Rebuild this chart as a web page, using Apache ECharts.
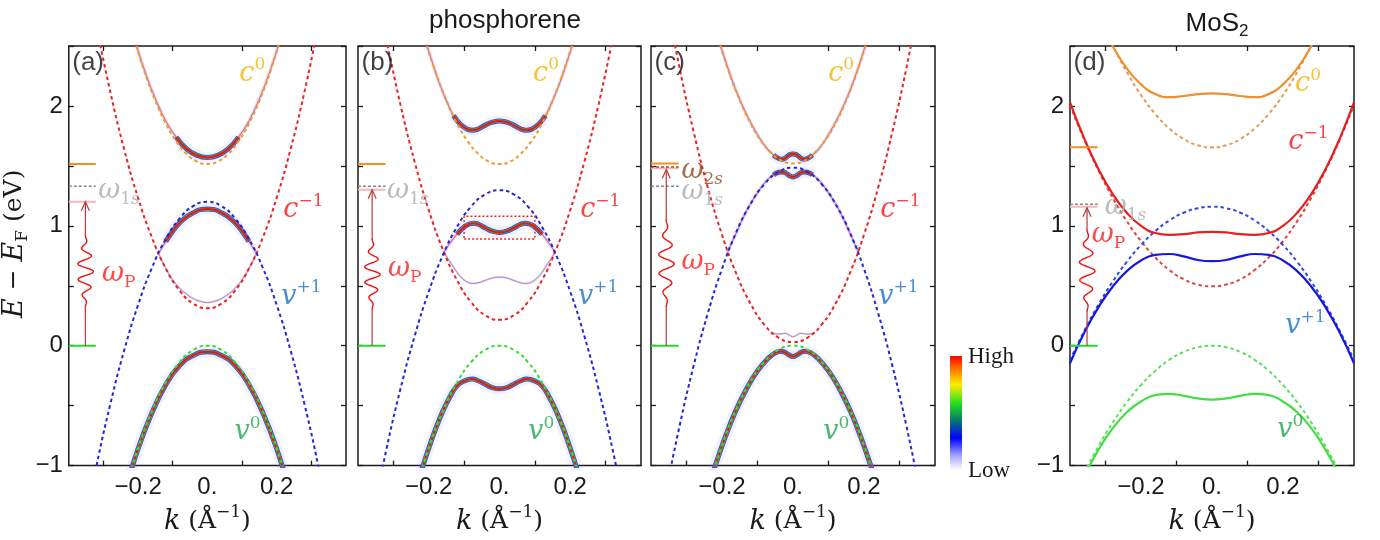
<!DOCTYPE html>
<html><head><meta charset="utf-8">
<script src="https://cdn.jsdelivr.net/npm/echarts@6/dist/echarts.min.js"></script>
<style>html,body{margin:0;padding:0;background:#fff}#c{width:1380px;height:540px}</style>
</head><body><div id="c"></div>
<script>
// ---------------- data (k in 1/Å, E in eV) ----------------
const xLabelTicks = [-0.2, 0, 0.2];
const xTickMarks = [-0.3, -0.1, 0.1, 0.3];
const yLabelTicks = [-1, 0, 1, 2];

// panel (a)
const A_c0  = [[-0.21,2.551],[-0.18,2.276],[-0.15,2.044],[-0.12,1.853],[-0.09,1.705],[-0.06,1.600],[-0.03,1.536],[0,1.515],[0.03,1.536],[0.06,1.600],[0.09,1.705],[0.12,1.853],[0.15,2.044],[0.18,2.276],[0.21,2.551]];
const A_cm1 = [[-0.32,2.668],[-0.28,2.116],[-0.24,1.638],[-0.2,1.233],[-0.16,0.902],[-0.12,0.644],[-0.08,0.460],[-0.04,0.350],[0,0.313],[0.04,0.350],[0.08,0.460],[0.12,0.644],[0.16,0.902],[0.2,1.233],[0.24,1.638],[0.28,2.116],[0.32,2.668]];
const A_vp1 = [[-0.36,-1.586],[-0.32,-1.002],[-0.28,-0.486],[-0.24,-0.038],[-0.2,0.340],[-0.16,0.650],[-0.12,0.890],[-0.08,1.062],[-0.04,1.166],[0,1.200],[0.04,1.166],[0.08,1.062],[0.12,0.890],[0.16,0.650],[0.2,0.340],[0.24,-0.038],[0.28,-0.486],[0.32,-1.002],[0.36,-1.586]];
const A_v0  = [[-0.24,-1.233],[-0.2,-0.856],[-0.16,-0.548],[-0.12,-0.308],[-0.08,-0.137],[-0.04,-0.034],[0,0],[0.04,-0.034],[0.08,-0.137],[0.12,-0.308],[0.16,-0.548],[0.2,-0.856],[0.24,-1.233]];
const A_sc0 = [[-0.21,2.555],[-0.18,2.285],[-0.15,2.06],[-0.12,1.875],[-0.09,1.74],[-0.06,1.642],[-0.03,1.588],[0,1.57],[0.03,1.588],[0.06,1.642],[0.09,1.74],[0.12,1.875],[0.15,2.06],[0.18,2.285],[0.21,2.555]];
const A_sup = [[-0.14,0.775],[-0.12,0.87],[-0.1,0.955],[-0.08,1.025],[-0.06,1.075],[-0.04,1.11],[-0.02,1.135],[0,1.14],[0.02,1.135],[0.04,1.11],[0.06,1.075],[0.08,1.025],[0.1,0.955],[0.12,0.87],[0.14,0.775]];
const A_slo = [[-0.14,0.765],[-0.12,0.645],[-0.1,0.55],[-0.08,0.48],[-0.06,0.43],[-0.04,0.392],[-0.02,0.37],[0,0.36],[0.02,0.37],[0.04,0.392],[0.06,0.43],[0.08,0.48],[0.1,0.55],[0.12,0.645],[0.14,0.765]];
const A_sv0 = [[-0.24,-1.24],[-0.2,-0.86],[-0.16,-0.56],[-0.12,-0.325],[-0.08,-0.165],[-0.04,-0.08],[0,-0.05],[0.04,-0.08],[0.08,-0.165],[0.12,-0.325],[0.16,-0.56],[0.2,-0.86],[0.24,-1.24]];

// panel (b)
const B_c0  = [[-0.21,2.551],[-0.18,2.276],[-0.15,2.044],[-0.12,1.853],[-0.09,1.705],[-0.06,1.600],[-0.03,1.536],[0,1.515],[0.03,1.536],[0.06,1.600],[0.09,1.705],[0.12,1.853],[0.15,2.044],[0.18,2.276],[0.21,2.551]];
const B_cm1 = [[-0.32,2.561],[-0.28,2.011],[-0.24,1.535],[-0.2,1.132],[-0.16,0.802],[-0.12,0.546],[-0.08,0.363],[-0.04,0.253],[0,0.216],[0.04,0.253],[0.08,0.363],[0.12,0.546],[0.16,0.802],[0.2,1.132],[0.24,1.535],[0.28,2.011],[0.32,2.561]];
const B_vp1 = [[-0.36,-1.444],[-0.32,-0.869],[-0.28,-0.361],[-0.24,0.079],[-0.2,0.451],[-0.16,0.756],[-0.12,0.992],[-0.08,1.162],[-0.04,1.263],[0,1.297],[0.04,1.263],[0.08,1.162],[0.12,0.992],[0.16,0.756],[0.2,0.451],[0.24,0.079],[0.28,-0.361],[0.32,-0.869],[0.36,-1.444]];
const B_v0  = [[-0.24,-1.227],[-0.2,-0.852],[-0.16,-0.545],[-0.12,-0.307],[-0.08,-0.136],[-0.04,-0.034],[0,0],[0.04,-0.034],[0.08,-0.136],[0.12,-0.307],[0.16,-0.545],[0.2,-0.852],[0.24,-1.227]];
const B_sc0 = [[-0.215,2.6],[-0.2,2.455],[-0.17,2.19],[-0.145,2.01],[-0.13,1.92],[-0.11,1.845],[-0.09,1.805],[-0.075,1.797],[-0.06,1.808],[-0.04,1.84],[-0.02,1.865],[0,1.875],[0.02,1.865],[0.04,1.84],[0.06,1.808],[0.075,1.797],[0.09,1.805],[0.11,1.845],[0.13,1.92],[0.145,2.01],[0.17,2.19],[0.2,2.455],[0.215,2.6]];
const B_sup = [[-0.157,0.78],[-0.14,0.855],[-0.12,0.93],[-0.1,0.99],[-0.085,1.015],[-0.072,1.022],[-0.06,1.013],[-0.04,0.982],[-0.02,0.955],[0,0.945],[0.02,0.955],[0.04,0.982],[0.06,1.013],[0.072,1.022],[0.085,1.015],[0.1,0.99],[0.12,0.93],[0.14,0.855],[0.157,0.78]];
const B_slo = [[-0.157,0.78],[-0.13,0.655],[-0.11,0.575],[-0.09,0.53],[-0.075,0.52],[-0.06,0.525],[-0.04,0.545],[-0.02,0.565],[0,0.572],[0.02,0.565],[0.04,0.545],[0.06,0.525],[0.075,0.52],[0.09,0.53],[0.11,0.575],[0.13,0.655],[0.157,0.78]];
const B_sv0 = [[-0.23,-1.13],[-0.2,-0.855],[-0.18,-0.69],[-0.16,-0.545],[-0.14,-0.425],[-0.12,-0.335],[-0.1,-0.295],[-0.077,-0.278],[-0.06,-0.292],[-0.04,-0.322],[-0.02,-0.35],[0,-0.36],[0.02,-0.35],[0.04,-0.322],[0.06,-0.292],[0.077,-0.278],[0.1,-0.295],[0.12,-0.335],[0.14,-0.425],[0.16,-0.545],[0.18,-0.69],[0.2,-0.855],[0.23,-1.13]];
const B_box = [[-0.1,0.89],[0.1,0.89],[0.1,1.08],[-0.1,1.08],[-0.1,0.89]];

// panel (c)
const C_c0  = [[-0.21,2.556],[-0.18,2.281],[-0.15,2.049],[-0.12,1.858],[-0.09,1.71],[-0.06,1.605],[-0.03,1.541],[0,1.52],[0.03,1.541],[0.06,1.605],[0.09,1.71],[0.12,1.858],[0.15,2.049],[0.18,2.281],[0.21,2.556]];
const C_cm1 = [[-0.36,2.933],[-0.32,2.324],[-0.28,1.786],[-0.24,1.32],[-0.2,0.926],[-0.16,0.603],[-0.12,0.353],[-0.08,0.173],[-0.04,0.066],[0,0.03],[0.04,0.066],[0.08,0.173],[0.12,0.353],[0.16,0.603],[0.2,0.926],[0.24,1.32],[0.28,1.786],[0.32,2.324],[0.36,2.933]];
const C_vp1 = [[-0.36,-1.25],[-0.32,-0.676],[-0.28,-0.169],[-0.24,0.27],[-0.2,0.641],[-0.16,0.945],[-0.12,1.181],[-0.08,1.35],[-0.04,1.451],[0,1.485],[0.04,1.451],[0.08,1.35],[0.12,1.181],[0.16,0.945],[0.2,0.641],[0.24,0.27],[0.28,-0.169],[0.32,-0.676],[0.36,-1.25]];
const C_v0  = [[-0.24,-1.198],[-0.2,-0.832],[-0.16,-0.532],[-0.12,-0.3],[-0.08,-0.133],[-0.04,-0.033],[0,0],[0.04,-0.033],[0.08,-0.133],[0.12,-0.3],[0.16,-0.532],[0.2,-0.832],[0.24,-1.198]];
const C_sc0 = [[-0.215,2.62],[-0.19,2.375],[-0.16,2.125],[-0.13,1.925],[-0.1,1.76],[-0.075,1.65],[-0.055,1.59],[-0.04,1.562],[-0.03,1.556],[-0.02,1.568],[-0.01,1.593],[0,1.6],[0.01,1.593],[0.02,1.568],[0.03,1.556],[0.04,1.562],[0.055,1.59],[0.075,1.65],[0.1,1.76],[0.13,1.925],[0.16,2.125],[0.19,2.375],[0.215,2.62]];
const C_svp1 = [[-0.185,0.775],[-0.16,0.94],[-0.13,1.13],[-0.1,1.275],[-0.075,1.375],[-0.055,1.425],[-0.04,1.447],[-0.03,1.45],[-0.02,1.44],[-0.01,1.418],[0,1.408],[0.01,1.418],[0.02,1.44],[0.03,1.45],[0.04,1.447],[0.055,1.425],[0.075,1.375],[0.1,1.275],[0.13,1.13],[0.16,0.94],[0.185,0.775]];
const C_slo = [[-0.06,0.11],[-0.045,0.097],[-0.03,0.1],[-0.022,0.104],[-0.012,0.092],[0,0.075],[0.012,0.092],[0.022,0.104],[0.03,0.1],[0.045,0.097],[0.06,0.11]];
const C_sv0 = [[-0.23,-1.1],[-0.19,-0.755],[-0.16,-0.535],[-0.13,-0.355],[-0.1,-0.21],[-0.07,-0.105],[-0.05,-0.06],[-0.035,-0.047],[-0.025,-0.052],[-0.012,-0.075],[0,-0.09],[0.012,-0.075],[0.025,-0.052],[0.035,-0.047],[0.05,-0.06],[0.07,-0.105],[0.1,-0.21],[0.13,-0.355],[0.16,-0.535],[0.19,-0.755],[0.23,-1.1]];

// panel (d) MoS2
const D_c0  = [[-0.32,2.771],[-0.28,2.51],[-0.24,2.283],[-0.2,2.091],[-0.16,1.934],[-0.12,1.812],[-0.08,1.725],[-0.04,1.672],[0,1.655],[0.04,1.672],[0.08,1.725],[0.12,1.812],[0.16,1.934],[0.2,2.091],[0.24,2.283],[0.28,2.51],[0.32,2.771]];
const D_cm1 = [[-0.4,2.007],[-0.36,1.72],[-0.32,1.463],[-0.28,1.236],[-0.24,1.039],[-0.2,0.873],[-0.16,0.737],[-0.12,0.631],[-0.08,0.555],[-0.04,0.51],[0,0.495],[0.04,0.51],[0.08,0.555],[0.12,0.631],[0.16,0.737],[0.2,0.873],[0.24,1.039],[0.28,1.236],[0.32,1.463],[0.36,1.72],[0.4,2.007]];
const D_vp1 = [[-0.4,-0.12],[-0.36,0.123],[-0.32,0.341],[-0.28,0.533],[-0.24,0.699],[-0.2,0.84],[-0.16,0.955],[-0.12,1.045],[-0.08,1.109],[-0.04,1.147],[0,1.16],[0.04,1.147],[0.08,1.109],[0.12,1.045],[0.16,0.955],[0.2,0.84],[0.24,0.699],[0.28,0.533],[0.32,0.341],[0.36,0.123],[0.4,-0.12]];
const D_v0  = [[-0.4,-1.312],[-0.36,-1.063],[-0.32,-0.84],[-0.28,-0.643],[-0.24,-0.472],[-0.2,-0.328],[-0.16,-0.21],[-0.12,-0.118],[-0.08,-0.052],[-0.04,-0.013],[0,0],[0.04,-0.013],[0.08,-0.052],[0.12,-0.118],[0.16,-0.21],[0.2,-0.328],[0.24,-0.472],[0.28,-0.643],[0.32,-0.84],[0.36,-1.063],[0.4,-1.312]];
const D_sc0 = [[-0.3,2.614],[-0.28,2.5],[-0.24,2.313],[-0.2,2.18],[-0.16,2.1],[-0.12,2.073],[-0.08,2.083],[-0.04,2.098],[0,2.105],[0.04,2.098],[0.08,2.083],[0.12,2.073],[0.16,2.1],[0.2,2.18],[0.24,2.313],[0.28,2.5],[0.3,2.614]];
const D_scm1 = [[-0.4,2.03],[-0.36,1.73],[-0.32,1.474],[-0.28,1.267],[-0.24,1.109],[-0.2,1.0],[-0.16,0.94],[-0.12,0.925],[-0.08,0.93],[-0.04,0.945],[0,0.95],[0.04,0.945],[0.08,0.93],[0.12,0.925],[0.16,0.94],[0.2,1.0],[0.24,1.109],[0.28,1.267],[0.32,1.474],[0.36,1.73],[0.4,2.03]];
const D_svp1 = [[-0.4,-0.146],[-0.36,0.108],[-0.32,0.32],[-0.28,0.492],[-0.24,0.622],[-0.2,0.711],[-0.16,0.758],[-0.12,0.765],[-0.08,0.745],[-0.04,0.715],[0,0.705],[0.04,0.715],[0.08,0.745],[0.12,0.765],[0.16,0.758],[0.2,0.711],[0.24,0.622],[0.28,0.492],[0.32,0.32],[0.36,0.108],[0.4,-0.146]];
const D_sv0 = [[-0.4,-1.35],[-0.36,-1.09],[-0.32,-0.87],[-0.28,-0.69],[-0.24,-0.555],[-0.2,-0.465],[-0.16,-0.412],[-0.12,-0.401],[-0.08,-0.418],[-0.04,-0.44],[0,-0.45],[0.04,-0.44],[0.08,-0.418],[0.12,-0.401],[0.16,-0.412],[0.2,-0.465],[0.24,-0.555],[0.28,-0.69],[0.32,-0.87],[0.36,-1.09],[0.4,-1.35]];

// reference energy levels drawn at the left edge of each panel (a,b,c,d)
const levOrange = [1.515, 1.515, 1.52, 1.655];
const levGray   = [1.33, 1.33, 1.33, 1.18];
const levPink   = [1.2, 1.3, 1.48, 1.16];
const levBrown  = [null, null, 1.49, null];
const levGreen  = [0, 0, 0, 0];
const omegaP    = [1.2, 1.3, 1.47, 1.15];

// ---------------- layout / style ----------------
const SANS = '"Liberation Sans", Arial, sans-serif';
const SERIF = '"DejaVu Serif", serif';
const TXT = '#1a1a1a';
const MARK_K = [-0.4, -0.322];
const arrowK = [-0.352, -0.36, -0.357, -0.352];
const waveLo = [0.32, 0.30, 0.32, 0.28];
const waveHi = [0.93, 0.90, 1.06, 0.98];

const COL = {c0:'#f39a2b', cm1:'#ee2222', vp1:'#2424dd', v0:'#33dd33'};
const COLD = {c0:'#e29a55', cm1:'#dd4444', vp1:'#3046e6', v0:'#5ee05e'};
const COLS = {c0:'#ef9030', cm1:'#e42020', vp1:'#1818e0', v0:'#44dd44'};
const LAB = {c0:'#f5b400', cm1:'#ff1010', vp1:'#1a72c6', v0:'#1fa84c', w1s:'#aaaaaa', wP:'#ff1a1a', w2s:'#8b4a1e', p:'#111111'};

const BRIGHT = [{w:11,c:'rgba(120,120,255,0.10)'},{w:5,c:'#4040e6'},{w:3.3,c:'#3cc050'},{w:2.1,c:'#ee1414'}];
const MEDIUM = [{w:3.6,c:'rgba(120,120,255,0.22)'},{w:1.1,c:'rgba(225,50,60,0.7)'}];
const FAINT  = [{w:2.2,c:'rgba(150,150,235,0.35)'},{w:0.9,c:'rgba(170,100,150,0.8)'}];

const gridBoxes = [[63,283],[358,283],[651,284],[1070,284]];

function rich(color){
  return {
    i:{fontFamily:SERIF, fontStyle:'italic', fontWeight:'normal', fontSize:27, lineHeight:34, color},
    r:{fontFamily:SERIF, fontWeight:'normal', fontSize:25, lineHeight:34, color},
    sup:{fontFamily:SERIF, fontWeight:'normal', fontSize:17, lineHeight:17, verticalAlign:'top', color},
    sub:{fontFamily:SERIF, fontWeight:'normal', fontSize:17, lineHeight:17, verticalAlign:'bottom', color},
    subi:{fontFamily:SERIF, fontStyle:'italic', fontWeight:'normal', fontSize:17, lineHeight:17, verticalAlign:'bottom', color},
    p:{fontFamily:SANS, fontWeight:'normal', fontSize:26, lineHeight:30, color}
  };
}
const TXTS = {
  c0:'{i|c}{sup|0}', cm1:'{i|c}{sup|−1}', vp1:'{i|v}{sup|+1}', v0:'{i|v}{sup|0}',
  w1s:'{i|ω}{sub|1}{subi|s}', w2s:'{i|ω}{sub|2}{subi|s}', wP:'{i|ω}{sub|P}'
};
// [key, k (left edge), E (vertical centre)]
const labelPos = [
  [['p','(a)',-0.39,2.36],['c0',0.092,2.27],['cm1',0.219,1.13],['vp1',0.213,0.41],['v0',0.078,-0.72],['w1s',-0.315,1.29],['wP',-0.304,0.6]],
  [['p','(b)',-0.39,2.36],['c0',0.095,2.27],['cm1',0.228,1.13],['vp1',0.222,0.41],['v0',0.081,-0.72],['w1s',-0.318,1.29],['wP',-0.315,0.64]],
  [['p','(c)',-0.39,2.36],['c0',0.099,2.27],['cm1',0.246,1.13],['vp1',0.24,0.41],['v0',0.085,-0.72],['w2s',-0.314,1.46],['w1s',-0.314,1.28],['wP',-0.314,0.70]],
  [['p','(d)',-0.39,2.36],['c0',0.234,2.18],['cm1',0.215,1.70],['vp1',0.206,0.165],['v0',0.184,-0.70],['w1s',-0.302,1.16],['wP',-0.339,0.92]]
];

// ---------------- build ----------------
const series = [];
const ax = gi => ({xAxisIndex:2*gi, yAxisIndex:2*gi});
function dash(gi, data, color){
  series.push(Object.assign({type:'line', data, smooth:true, symbol:'none', silent:true, z:4,
    lineStyle:{color, width:2, type:[3.5,3]}}, ax(gi)));
}
function solid(gi, data, color){
  series.push(Object.assign({type:'line', data, smooth:true, symbol:'none', silent:true, z:4,
    lineStyle:{color, width:2.2}}, ax(gi)));
}
function band(gi, data, style, half){
  const d = half == null ? data : data.filter(p => Math.abs(p[0]) <= half + 1e-9);
  style.forEach(l => series.push(Object.assign({type:'line', data:d, smooth:true, symbol:'none', silent:true, z:2,
    lineStyle:{color:l.c, width:l.w, cap:'butt', join:'round'}}, ax(gi))));
}
function mark(gi, E, color, type, w){
  if (E == null) return;
  series.push(Object.assign({type:'line', data:[[MARK_K[0],E],[MARK_K[1],E]], symbol:'none', silent:true, z:5,
    lineStyle:{color, width:w||2, type:type||'solid'}}, ax(gi)));
}
function photon(gi){
  series.push(Object.assign({type:'custom', silent:true, z:6, clip:false,
    data:[[arrowK[gi], levGreen[gi], omegaP[gi], waveLo[gi], waveHi[gi]]],
    renderItem:(params, api) => {
      const k = api.value(0);
      const p0 = api.coord([k, api.value(1)]), pt = api.coord([k, api.value(2)]);
      const pl = api.coord([k, api.value(3)]), ph = api.coord([k, api.value(4)]);
      const pts = [], N = 160, len = pl[1] - ph[1], periods = 4.6, amp = 8;
      for (let i = 0; i <= N; i++) {
        const t = i / N;
        const env = Math.pow(Math.sin(Math.PI * t), 1.3);
        pts.push([pl[0] + amp * env * Math.sin(2 * Math.PI * periods * t), pl[1] - t * len]);
      }
      return {type:'group', children:[
        {type:'line', shape:{x1:p0[0], y1:p0[1], x2:pl[0], y2:pl[1]}, style:{stroke:'#b83a3a', lineWidth:1.2}},
        {type:'polyline', shape:{points:pts}, style:{stroke:'#f01010', lineWidth:1.4, fill:null}},
        {type:'line', shape:{x1:ph[0], y1:ph[1], x2:pt[0], y2:pt[1]}, style:{stroke:'#b83a3a', lineWidth:1.2}},
        {type:'polyline', shape:{points:[[pt[0]-4, pt[1]+9],[pt[0], pt[1]],[pt[0]+4, pt[1]+9]]}, style:{stroke:'#b83a3a', lineWidth:1.2, fill:null}}
      ]};
    }}, ax(gi)));
}
function labels(gi){
  const data = labelPos[gi].map(it => {
    const key = it[0];
    const isP = key === 'p';
    const txt = isP ? '{p|' + it[1] + '}' : TXTS[key];
    const k = isP ? it[2] : it[1], E = isP ? it[3] : it[2];
    return {value:[k, E], label:{show:true, position:'right', distance:0, formatter:() => txt, rich:rich(LAB[key])}};
  });
  series.push(Object.assign({type:'scatter', symbolSize:0, silent:true, z:10, data}, ax(gi)));
}

// panels (a)-(c): spectral bands below, bare bands dashed on top
const phos = [
  {d:[A_c0,A_cm1,A_vp1,A_v0], b:[[A_sc0,MEDIUM],[A_sc0,BRIGHT,0.09],[A_slo,FAINT],[A_sup,MEDIUM],[A_sup,BRIGHT,0.12],[A_sv0,BRIGHT]]},
  {d:[B_c0,B_cm1,B_vp1,B_v0], b:[[B_sc0,MEDIUM],[B_sc0,BRIGHT,0.13],[B_slo,FAINT],[B_sup,MEDIUM],[B_sup,BRIGHT,0.12],[B_sv0,BRIGHT]]},
  {d:[C_c0,C_cm1,C_vp1,C_v0], b:[[C_sc0,MEDIUM],[C_sc0,BRIGHT,0.06],[C_slo,FAINT],[C_svp1,MEDIUM],[C_svp1,BRIGHT,0.06],[C_sv0,BRIGHT]]}
];
phos.forEach((p, gi) => {
  p.b.forEach(b => band(gi, b[0], b[1], b[2]));
  dash(gi, p.d[0], COL.c0); dash(gi, p.d[1], COL.cm1); dash(gi, p.d[2], COL.vp1); dash(gi, p.d[3], COL.v0);
});
series.push(Object.assign({type:'line', data:B_box, symbol:'none', silent:true, z:5,
  lineStyle:{color:'#ee2222', width:1.4, type:[2,2]}}, ax(1)));

// panel (d)
dash(3, D_c0, COLD.c0); dash(3, D_cm1, COLD.cm1); dash(3, D_vp1, COLD.vp1); dash(3, D_v0, COLD.v0);
solid(3, D_sc0, COLS.c0); solid(3, D_scm1, COLS.cm1); solid(3, D_svp1, COLS.vp1); solid(3, D_sv0, COLS.v0);

for (let gi = 0; gi < 4; gi++) {
  mark(gi, levOrange[gi], '#f39022', 'solid', 2);
  mark(gi, levPink[gi], '#f5b8b8', 'solid', 2);
  mark(gi, levBrown[gi], '#a0522d', [3,2], 1.5);
  mark(gi, levGray[gi], '#888888', [3,2], 1.5);
  mark(gi, levGreen[gi], '#2bd62b', 'solid', 2);
  photon(gi);
  labels(gi);
}

// axes
const fmtX = v => {
  if (!xLabelTicks.some(t => Math.abs(t - v) < 1e-9)) return '';
  if (Math.abs(v) < 1e-9) return '0.';
  return (v < 0 ? '−' : '') + Math.abs(v).toFixed(1);
};
const fmtY = v => {
  if (!yLabelTicks.some(t => Math.abs(t - v) < 1e-9)) return '';
  return (v < 0 ? '−' : '') + Math.abs(Math.round(v));
};
const xRich = rich(TXT);
const grid = [], xAxis = [], yAxis = [];
gridBoxes.forEach((g, i) => {
  grid.push({left:g[0], top:46, width:g[1], height:424, show:true, borderColor:'#1a1a1a', borderWidth:1.5, backgroundColor:'transparent'});
  const xb = {type:'value', gridIndex:i, min:-0.4, max:0.4, interval:0.1,
    axisLine:{show:false, onZero:false},
    axisTick:{show:true, inside:true, length:5, customValues:xTickMarks, lineStyle:{color:'#1a1a1a', width:1.3}},
    splitLine:{show:false}};
  xAxis.push(Object.assign({}, xb, {position:'bottom',
    axisLabel:{show:true, margin:10, fontSize:24, fontFamily:SANS, color:TXT, customValues:xLabelTicks, formatter:fmtX},
    name:'{i|k}{r| (Å}{sup|−1}{r|)}', nameLocation:'middle', nameGap:32, nameTextStyle:{rich:xRich}}));
  xAxis.push(Object.assign({}, xb, {position:'top', axisLabel:{show:false}}));
  const yb = {type:'value', gridIndex:i, min:-1, max:2.5, interval:0.5,
    axisLine:{show:false, onZero:false}, axisTick:{show:true, inside:true, length:5, lineStyle:{color:'#1a1a1a', width:1.3}},
    splitLine:{show:false}};
  const yLeft = Object.assign({}, yb, {position:'left',
    axisLabel:{show:(i === 0 || i === 3), margin:6, fontSize:24, fontFamily:SANS, color:TXT, formatter:fmtY, showMinLabel:true, showMaxLabel:true}});
  if (i === 0) Object.assign(yLeft, {name:'{i|E}{r| − }{i|E}{sub|F}{r| (eV)}', nameLocation:'middle', nameGap:31,
    nameTextStyle:{rich:xRich, padding:[0,0,0,24]}});
  yAxis.push(yLeft);
  yAxis.push(Object.assign({}, yb, {position:'right', axisLabel:{show:false}}));
});

const option = {
  animation:false,
  backgroundColor:'#ffffff',
  title:[
    {text:'phosphorene', left:500, top:3, textAlign:'center', textStyle:{fontFamily:SANS, fontSize:26, fontWeight:'normal', color:TXT}},
    {text:'{a|MoS}{b|2}', left:1212, top:3, textAlign:'center', textStyle:{fontWeight:'normal', rich:{
      a:{fontFamily:SANS, fontSize:26, fontWeight:'normal', color:TXT, lineHeight:32},
      b:{fontFamily:SANS, fontSize:17, fontWeight:'normal', color:TXT, lineHeight:17, verticalAlign:'bottom'}}}}
  ],
  grid, xAxis, yAxis, series,
  graphic:[
    {type:'rect', shape:{x:950, y:356, width:12, height:114}, z:10, style:{fill:new echarts.graphic.LinearGradient(0,0,0,1,[
      {offset:0, color:'#ff0000'},{offset:0.12, color:'#ff7a00'},{offset:0.25, color:'#ffee00'},
      {offset:0.42, color:'#22dd22'},{offset:0.56, color:'#0a7a6a'},{offset:0.72, color:'#0000ff'},
      {offset:0.88, color:'#aaaaff'},{offset:1, color:'#ffffff'}])}},
    {type:'text', x:968, y:357, z:10, style:{text:'High', fontFamily:'"Liberation Serif", serif', fontSize:23, fill:TXT, verticalAlign:'middle'}},
    {type:'text', x:968, y:471, z:10, style:{text:'Low', fontFamily:'"Liberation Serif", serif', fontSize:23, fill:TXT, verticalAlign:'middle'}}
  ]
};
const chart = echarts.init(document.getElementById('c'), null, {renderer:'canvas'});
chart.setOption(option);
</script></body></html>
